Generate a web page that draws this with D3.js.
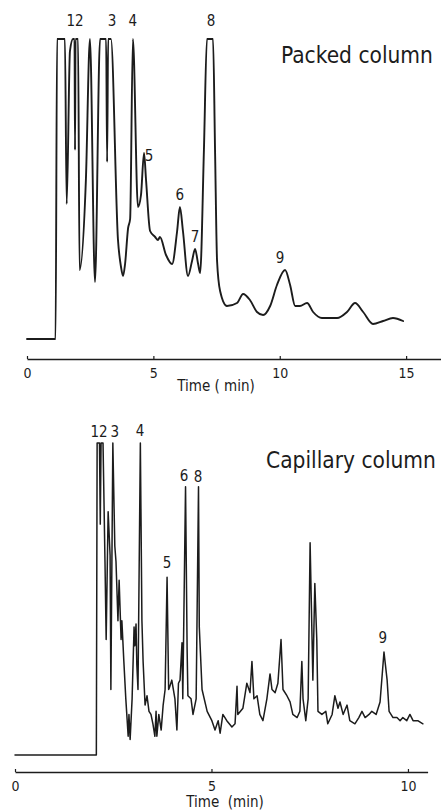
<!DOCTYPE html>
<html>
<head>
<meta charset="utf-8">
<script src="https://cdn.jsdelivr.net/npm/d3@7"></script>
<style>
    body { margin: 0; background: #fff; }
    svg { display: block; background: #fff; }
    .trace { fill: none; stroke: #1c1c1c; stroke-linejoin: round; stroke-linecap: round; }
    .axis path { stroke: #1c1c1c; stroke-width: 1.6; }
    .axis line { stroke: #1c1c1c; stroke-width: 1.2; }
    .axis text { font-family: 'DejaVu Sans Condensed', 'DejaVu Sans', sans-serif; font-size: 14px; fill: #1c1c1c; }
    text { font-family: 'DejaVu Sans Condensed', 'DejaVu Sans', sans-serif; fill: #1c1c1c; }
</style>
</head>
<body>
<svg id="chart" width="441" height="812"></svg>
<script>
// Packed column trace (time in min, detector signal in % of full scale, clipped at 100)
const packedTime = [0, 1.13, 1.19, 1.50, 1.57, 1.70, 1.82, 1.88, 1.90, 1.92, 2.02, 2.08, 2.33, 2.49, 2.69, 2.89, 3.13, 3.17, 3.21, 3.32,
    3.60, 3.72, 3.80, 3.88, 4.00, 4.08, 4.19, 4.39, 4.51, 4.63, 4.71, 4.87, 5.07, 5.18, 5.26, 5.50, 5.74, 5.94, 6.05, 6.17,
    6.37, 6.53, 6.65, 6.77, 6.85, 7.00, 7.12, 7.36, 7.44, 7.52, 7.64, 7.91, 8.31, 8.55, 8.82, 9.10, 9.34, 9.62, 9.89, 10.21,
    10.41, 10.61, 10.80, 11.08, 11.32, 11.67, 12.27, 12.66, 12.98, 13.30, 13.69, 14.09, 14.48, 14.88];
const packedSignal = [0, 0, 100, 100, 45, 96, 100, 100, 63, 100, 100, 23, 53, 100, 19, 100, 100, 59, 100, 100,
    33, 24, 21, 25, 37, 40, 100, 44, 48, 62, 53, 36, 34, 33, 34, 28, 25, 36, 44, 36,
    21, 26, 30, 25, 22, 63, 100, 100, 63, 26, 16, 11, 12, 15, 13, 9, 8, 11, 18, 23,
    18, 11, 11, 12, 9, 7, 7, 9, 12, 9, 5, 6, 7, 6];

// Capillary column trace
const capTime = [0, 2.07, 2.09, 2.15, 2.17, 2.19, 2.24, 2.29, 2.32, 2.37, 2.42, 2.44, 2.49, 2.54, 2.57, 2.62, 2.65, 2.70, 2.72, 2.77,
    2.82, 2.88, 2.90, 2.93, 2.98, 3.03, 3.05, 3.08, 3.10, 3.13, 3.19, 3.23, 3.26, 3.31, 3.36, 3.41, 3.46, 3.51, 3.56, 3.59,
    3.61, 3.66, 3.72, 3.77, 3.82, 3.87, 3.91, 3.94, 3.99, 4.07, 4.12, 4.16, 4.20, 4.25, 4.27, 4.34, 4.38, 4.40, 4.48, 4.53,
    4.61, 4.67, 4.69, 4.76, 4.89, 5.01, 5.09, 5.17, 5.22, 5.29, 5.39, 5.52, 5.60, 5.65, 5.67, 5.80, 5.90, 5.98, 6.03, 6.08,
    6.16, 6.23, 6.31, 6.41, 6.49, 6.54, 6.62, 6.69, 6.77, 6.82, 6.92, 7.00, 7.07, 7.18, 7.25, 7.30, 7.33, 7.40, 7.46, 7.51,
    7.56, 7.58, 7.63, 7.68, 7.71, 7.81, 7.91, 7.96, 8.07, 8.14, 8.22, 8.27, 8.35, 8.45, 8.52, 8.65, 8.75, 8.83, 8.91, 9.01,
    9.08, 9.19, 9.29, 9.39, 9.47, 9.52, 9.62, 9.72, 9.80, 9.87, 9.97, 10.05, 10.13, 10.25, 10.38];
const capSignal = [0, 0, 100, 100, 74, 100, 100, 62, 37, 78, 64, 21, 100, 67, 62, 43, 56, 37, 43, 30,
    18, 6, 13, 5, 18, 41, 35, 42, 29, 21, 100, 43, 30, 16, 19, 14, 13, 10, 6, 14,
    6, 13, 8, 16, 21, 57, 21, 22, 24, 18, 8, 23, 24, 36, 18, 86, 34, 19, 18, 13,
    18, 86, 41, 21, 14, 11, 8, 11, 7, 13, 11, 9, 10, 22, 13, 15, 23, 20, 30, 18,
    19, 13, 11, 18, 26, 21, 20, 23, 37, 21, 19, 17, 13, 12, 14, 30, 18, 11, 18, 68,
    37, 24, 55, 37, 14, 13, 14, 10, 13, 19, 15, 17, 13, 16, 11, 10, 12, 14, 12, 13,
    14, 13, 17, 33, 24, 14, 12, 12, 11, 12, 11, 13, 11, 11, 10];

const packedTicks = [0, 5, 10, 15];
const capTicks = [0, 5, 10];

// peak numbers and where they sit (time, signal level)
const packedPeakNames = ['12', '3', '4', '5', '6', '7', '8', '9'];
const packedPeakTime = [1.90, 3.36, 4.19, 4.83, 6.05, 6.65, 7.28, 10.01];
const packedPeakLevel = [106, 106, 106, 61, 48, 34, 106, 27];

const capPeakNames = ['12', '3', '4', '5', '6', '8', '9'];
const capPeakTime = [2.14, 2.54, 3.18, 3.87, 4.30, 4.66, 9.36];
const capPeakLevel = [103.5, 103.5, 104, 61.5, 89.5, 89, 37.5];

const svg = d3.select('#chart');

function drawPanel(cfg) {
    const g = svg.append('g');
    const x = d3.scaleLinear().domain(cfg.xDomain).range(cfg.xRange);
    const y = d3.scaleLinear().domain([0, 100]).range(cfg.yRange);

    const pts = cfg.time.map((t, i) => [t, cfg.signal[i]]);
    const line = d3.line()
        .x(d => x(d[0]))
        .y(d => y(d[1]))
        .curve(cfg.curve);

    g.append('path')
        .datum(pts)
        .attr('class', 'trace')
        .attr('stroke-width', cfg.strokeWidth)
        .attr('d', line);

    g.append('g')
        .attr('class', 'axis')
        .attr('transform', `translate(0, ${cfg.axisY})`)
        .call(d3.axisBottom(x)
            .tickValues(cfg.ticks)
            .tickFormat(d3.format('d'))
            .tickSizeInner(-3)
            .tickSizeOuter(0)
            .tickPadding(9));

    g.append('text')
        .attr('x', cfg.xTitleX)
        .attr('y', cfg.axisY + cfg.xTitleDy)
        .attr('text-anchor', 'middle')
        .attr('font-size', 15)
        .attr('xml:space', 'preserve')
        .text(cfg.xTitle);

    g.selectAll('.peak-label')
        .data(cfg.peakNames)
        .enter()
        .append('text')
        .attr('class', 'peak-label')
        .attr('x', (d, i) => x(cfg.peakTime[i]))
        .attr('y', (d, i) => y(cfg.peakLevel[i]))
        .attr('text-anchor', 'middle')
        .attr('dominant-baseline', 'central')
        .attr('font-size', 15)
        .text(d => d);

    g.append('text')
        .attr('x', cfg.titleX)
        .attr('y', cfg.titleY)
        .attr('font-size', 22.5)
        .attr('dominant-baseline', 'central')
        .text(cfg.title);
}

drawPanel({
    time: packedTime,
    signal: packedSignal,
    xDomain: [0, 16.38],
    xRange: [27, 441],
    yRange: [339, 39],
    axisY: 359,
    ticks: packedTicks,
    curve: d3.curveMonotoneX,
    strokeWidth: 1.9,
    xTitle: 'Time ( min)',
    xTitleX: 216,
    xTitleDy: 32,
    peakNames: packedPeakNames,
    peakTime: packedPeakTime,
    peakLevel: packedPeakLevel,
    title: 'Packed column',
    titleX: 281,
    titleY: 55
});

drawPanel({
    time: capTime,
    signal: capSignal,
    xDomain: [0, 10.5],
    xRange: [15, 427.6],
    yRange: [755, 443],
    axisY: 772,
    ticks: capTicks,
    curve: d3.curveLinear,
    strokeWidth: 1.5,
    xTitle: 'Time  (min)',
    xTitleX: 225,
    xTitleDy: 35,
    peakNames: capPeakNames,
    peakTime: capPeakTime,
    peakLevel: capPeakLevel,
    title: 'Capillary column',
    titleX: 266,
    titleY: 460
});
</script>
</body>
</html>
